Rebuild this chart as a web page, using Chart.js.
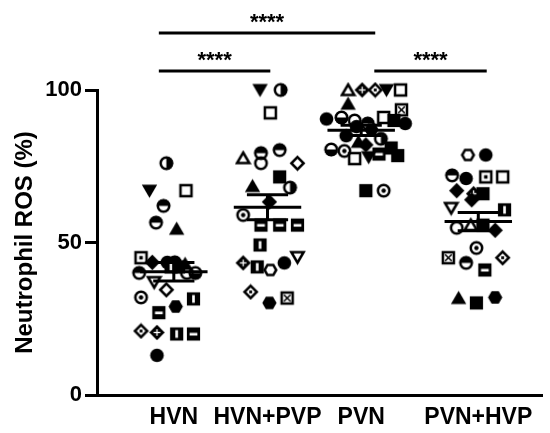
<!DOCTYPE html>
<html>
<head>
<meta charset="utf-8">
<script src="https://cdn.jsdelivr.net/npm/chart.js@4.4.1/dist/chart.umd.min.js"></script>
<style>
  html, body { margin: 0; padding: 0; background: #fff; }
  #wrap { width: 550px; height: 433px; }
</style>
</head>
<body>
<div id="wrap"><canvas id="rosChart" width="550" height="433"></canvas></div>
<script>
// groups and where they sit on the x axis
const groups = ['HVN', 'HVN+PVP', 'PVN', 'PVN+HVP'];
const groupX = [1, 2, 3, 4.25];

// HVN
const hvnValues = [76, 67, 67, 62, 56.5, 54.5, 45, 43.5, 43.5, 43.5, 43, 42, 42, 40, 40, 40, 37, 34.5, 32, 31.5, 29, 27, 21, 20.5, 20, 20, 13];
const hvnJitter = [-0.08, -0.26, 0.13, -0.11, -0.19, 0.03, -0.35, -0.23, -0.07, 0.01, 0.12, 0.05, -0.03, -0.37, 0.23, 0.14, -0.21, -0.08, -0.35, 0.21, 0.02, -0.16, -0.35, -0.18, 0.03, 0.21, -0.18];
const hvnMarkers = ['halfRight', 'triDown', 'squareOpen', 'halfTop', 'halfTop', 'tri', 'squareDot', 'diamond', 'circle', 'halfTop', 'tri', 'square', 'squareBarV', 'halfTop', 'halfBottom', 'circleOpen', 'triDownOpen', 'diamondOpen', 'circleDot', 'squareBarV', 'hex', 'squareBarH', 'diamondDot', 'diamondCross', 'squareBarV', 'squareBarH', 'circle'];

// HVN+PVP
const hvnPvpValues = [100, 100, 92.5, 77.7, 79.3, 76, 80.3, 76, 71.5, 68.5, 68, 63.3, 59, 55.7, 55.7, 55.7, 49.2, 43.3, 42, 41, 43.3, 45.2, 33.8, 30.2, 31.8];
const hvnPvpJitter = [-0.08, 0.14, 0.03, -0.26, -0.07, -0.07, 0.13, 0.32, 0.13, -0.16, 0.24, 0.02, -0.26, -0.07, 0.13, 0.32, -0.08, -0.26, -0.11, 0.03, 0.18, 0.32, -0.18, 0.02, 0.21];
const hvnPvpMarkers = ['triDown', 'halfRight', 'squareOpen', 'triOpen', 'halfTop', 'circleOpen', 'halfTop', 'diamondOpen', 'square', 'tri', 'halfRight', 'diamond', 'circleDot', 'squareBarH', 'squareBarH', 'squareBarH', 'squareBarV', 'diamondCross', 'squareBarV', 'hexOpen', 'circle', 'triDownOpen', 'diamondDot', 'hex', 'squareX'];

// PVN
const pvnValues = [100, 100, 100, 100, 100, 95.5, 93.5, 90.5, 91, 90, 91, 90, 89, 89, 88, 87, 85, 84, 83, 82, 81, 80.5, 80, 79, 78.5, 78, 77.5, 67, 67];
const pvnJitter = [-0.14, 0.01, 0.15, 0.27, 0.42, -0.14, 0.43, -0.37, -0.21, -0.07, 0.24, 0.35, 0.47, 0.07, -0.05, 0.11, -0.16, 0.21, -0.03, 0.05, 0.32, -0.32, -0.18, 0.19, 0.39, 0.08, -0.07, 0.05, 0.24];
const pvnMarkers = ['triOpen', 'diamondCross', 'diamondDot', 'triDown', 'squareOpen', 'tri', 'squareX', 'circle', 'halfBottom', 'circleOpen', 'squareOpen', 'square', 'circle', 'halfTop', 'circle', 'hex', 'circle', 'halfRight', 'tri', 'diamond', 'square', 'halfBottom', 'circleDot', 'squareBarH', 'square', 'triDown', 'squareOpen', 'square', 'circleDot'];

// PVN+HVP
const pvnHvpValues = [78.7, 78.7, 72, 71, 71.5, 71.5, 67, 66, 66, 64, 61.3, 60.7, 54.8, 55.7, 55.7, 54, 48.2, 45, 43.3, 45, 41, 31.8, 30.2, 32];
const pvnHvpJitter = [-0.11, 0.08, -0.28, -0.13, 0.08, 0.26, -0.23, -0.05, 0.05, -0.07, -0.29, 0.28, -0.23, -0.08, 0.05, 0.18, -0.02, -0.32, -0.13, 0.26, 0.07, -0.21, -0.02, 0.18];
const pvnHvpMarkers = ['hexOpen', 'circle', 'halfTop', 'circle', 'squareDot', 'squareOpen', 'diamond', 'diamondCross', 'square', 'diamond', 'triDownOpen', 'squareBarV', 'circleOpen', 'triOpen', 'square', 'diamond', 'circleDot', 'squareX', 'halfTop', 'diamondDot', 'squareBarH', 'tri', 'square', 'hex'];

// significance brackets: [from, to] on the x axis, height in %, label
const bracketFrom = [0.84, 0.84, 3.14];
const bracketTo = [2.03, 3.15, 4.34];
const bracketLevel = [106.2, 118.7, 106.2];
const bracketText = ['****', '****', '****'];

const yTicks = [0, 50, 100];
const fontFamily = "Arial, 'Liberation Sans', sans-serif";

const allValues = [hvnValues, hvnPvpValues, pvnValues, pvnHvpValues];
const allJitter = [hvnJitter, hvnPvpJitter, pvnJitter, pvnHvpJitter];
const allMarkers = [hvnMarkers, hvnPvpMarkers, pvnMarkers, pvnHvpMarkers];

function makeMarker(kind) {
    const c = document.createElement('canvas');
    c.width = 17;
    c.height = 17;
    const g = c.getContext('2d');
    g.translate(8.5, 8.5);
    g.scale(1.1, 1.1);
    g.fillStyle = '#000';
    g.strokeStyle = '#000';
    g.lineWidth = 2.3;
    const poly = pts => {
        g.beginPath();
        pts.forEach((p, i) => i ? g.lineTo(p[0], p[1]) : g.moveTo(p[0], p[1]));
        g.closePath();
    };
    const hexPts = r => [0, 1, 2, 3, 4, 5].map(k => [r * Math.cos(k * Math.PI / 3), r * Math.sin(k * Math.PI / 3)]);
    switch (kind) {
        case 'circle':
            g.beginPath(); g.arc(0, 0, 6.2, 0, Math.PI * 2); g.fill(); break;
        case 'circleOpen':
            g.beginPath(); g.arc(0, 0, 5.2, 0, Math.PI * 2); g.stroke(); break;
        case 'circleDot':
            g.beginPath(); g.arc(0, 0, 5.2, 0, Math.PI * 2); g.stroke();
            g.beginPath(); g.arc(0, 0, 2, 0, Math.PI * 2); g.fill(); break;
        case 'halfTop':
            g.beginPath(); g.arc(0, 0, 5.2, 0, Math.PI * 2); g.stroke();
            g.beginPath(); g.arc(0, 0, 6.2, Math.PI, Math.PI * 2); g.fill(); break;
        case 'halfBottom':
            g.beginPath(); g.arc(0, 0, 5.2, 0, Math.PI * 2); g.stroke();
            g.beginPath(); g.arc(0, 0, 6.2, 0, Math.PI); g.fill(); break;
        case 'halfRight':
            g.beginPath(); g.arc(0, 0, 5.2, 0, Math.PI * 2); g.stroke();
            g.beginPath(); g.arc(0, 0, 6.2, -Math.PI / 2, Math.PI / 2); g.fill(); break;
        case 'tri':
            poly([[0, -6.5], [7, 5.5], [-7, 5.5]]); g.fill(); break;
        case 'triOpen':
            poly([[0, -5], [5.6, 4.6], [-5.6, 4.6]]); g.stroke(); break;
        case 'triDown':
            poly([[0, 6.5], [7, -5.5], [-7, -5.5]]); g.fill(); break;
        case 'triDownOpen':
            poly([[0, 5], [5.6, -4.6], [-5.6, -4.6]]); g.stroke(); break;
        case 'square':
            g.fillRect(-6, -6, 12, 12); break;
        case 'squareOpen':
            g.strokeRect(-5, -5, 10, 10); break;
        case 'squareDot':
            g.strokeRect(-5, -5, 10, 10); g.fillRect(-1.6, -1.6, 3.2, 3.2); break;
        case 'squareX':
            g.strokeRect(-5, -5, 10, 10);
            g.lineWidth = 1.4;
            g.beginPath(); g.moveTo(-3, -3); g.lineTo(3, 3); g.moveTo(3, -3); g.lineTo(-3, 3); g.stroke(); break;
        case 'squareBarH':
            g.fillRect(-6, -6, 12, 12); g.fillStyle = '#fff'; g.fillRect(-3.5, -1, 7, 2.4); break;
        case 'squareBarV':
            g.fillRect(-6, -6, 12, 12); g.fillStyle = '#fff'; g.fillRect(-1.2, -3.5, 2.4, 7); break;
        case 'diamond':
            poly([[0, -7], [7, 0], [0, 7], [-7, 0]]); g.fill(); break;
        case 'diamondOpen':
            poly([[0, -5.6], [5.6, 0], [0, 5.6], [-5.6, 0]]); g.stroke(); break;
        case 'diamondDot':
            poly([[0, -5.6], [5.6, 0], [0, 5.6], [-5.6, 0]]); g.stroke();
            g.fillRect(-1.3, -1.3, 2.6, 2.6); break;
        case 'diamondCross':
            poly([[0, -7], [7, 0], [0, 7], [-7, 0]]); g.fill();
            g.fillStyle = '#fff'; g.fillRect(-0.6, -3, 1.2, 6); g.fillRect(-3, -0.6, 6, 1.2); break;
        case 'hex':
            poly(hexPts(6.5)); g.fill(); break;
        case 'hexOpen':
            poly(hexPts(5.3)); g.stroke(); break;
    }
    return c;
}

const markerCache = {};
function marker(kind) {
    if (!markerCache[kind]) markerCache[kind] = makeMarker(kind);
    return markerCache[kind];
}

function meanOf(arr) {
    return arr.reduce((a, b) => a + b, 0) / arr.length;
}
function semOf(arr) {
    const m = meanOf(arr);
    const v = arr.reduce((a, b) => a + (b - m) * (b - m), 0) / (arr.length - 1);
    return Math.sqrt(v / arr.length);
}

// mean +/- SEM bars drawn over the points
const meanSemPlugin = {
    id: 'meanSem',
    afterDatasetsDraw(chart) {
        const xs = chart.scales.x;
        const ys = chart.scales.y;
        const g = chart.ctx;
        g.save();
        g.strokeStyle = '#000';
        g.lineWidth = 3;
        allValues.forEach((vals, i) => {
            const m = meanOf(vals);
            const s = semOf(vals);
            const cx = groupX[i];
            const yM = ys.getPixelForValue(m);
            const yHi = ys.getPixelForValue(m + s);
            const yLo = ys.getPixelForValue(m - s);
            g.beginPath();
            g.moveTo(xs.getPixelForValue(cx - 0.36), yM);
            g.lineTo(xs.getPixelForValue(cx + 0.36), yM);
            g.moveTo(xs.getPixelForValue(cx - 0.22), yHi);
            g.lineTo(xs.getPixelForValue(cx + 0.22), yHi);
            g.moveTo(xs.getPixelForValue(cx - 0.22), yLo);
            g.lineTo(xs.getPixelForValue(cx + 0.22), yLo);
            g.moveTo(xs.getPixelForValue(cx), yHi);
            g.lineTo(xs.getPixelForValue(cx), yLo);
            g.stroke();
        });
        g.restore();
    }
};

const bracketPlugin = {
    id: 'brackets',
    afterDraw(chart) {
        const xs = chart.scales.x;
        const ys = chart.scales.y;
        const g = chart.ctx;
        g.save();
        g.strokeStyle = '#000';
        g.fillStyle = '#000';
        g.lineWidth = 3;
        g.font = 'bold 22px ' + fontFamily;
        g.textAlign = 'center';
        g.textBaseline = 'alphabetic';
        bracketFrom.forEach((from, i) => {
            const x1 = xs.getPixelForValue(from);
            const x2 = xs.getPixelForValue(bracketTo[i]);
            const y = ys.getPixelForValue(bracketLevel[i]);
            g.beginPath();
            g.moveTo(x1, y);
            g.lineTo(x2, y);
            g.stroke();
            g.fillText(bracketText[i], (x1 + x2) / 2, y - 4);
        });
        g.restore();
    }
};

const datasets = allValues.map((vals, gi) => ({
    label: groups[gi],
    data: vals.map((v, i) => ({ x: groupX[gi] + allJitter[gi][i], y: v })),
    pointStyle: ctx => marker(allMarkers[gi][ctx.dataIndex]),
    pointRadius: 7,
    clip: false
}));

new Chart(document.getElementById('rosChart'), {
    type: 'scatter',
    data: { datasets: datasets },
    options: {
        responsive: false,
        animation: false,
        layout: { padding: { top: 90, right: 2, bottom: 0, left: 0 } },
        plugins: {
            legend: { display: false },
            tooltip: { enabled: false }
        },
        scales: {
            x: {
                type: 'linear',
                min: 0.18,
                max: 4.93,
                afterFit: scale => { scale.height = 38; },
                afterBuildTicks: scale => { scale.ticks = groupX.map(v => ({ value: v })); },
                grid: { display: false },
                border: { display: true, width: 3, color: '#000' },
                ticks: {
                    autoSkip: false,
                    maxRotation: 0,
                    padding: 1,
                    color: '#000',
                    font: { family: fontFamily, size: 23, weight: 'bold' },
                    callback: v => groups[groupX.indexOf(v)]
                }
            },
            y: {
                min: 0,
                max: 100,
                afterFit: scale => { scale.width = 97; },
                afterBuildTicks: scale => { scale.ticks = yTicks.map(v => ({ value: v })); },
                grid: {
                    display: true,
                    drawOnChartArea: false,
                    drawTicks: true,
                    tickLength: 12,
                    tickWidth: 3,
                    tickColor: '#000'
                },
                border: { display: true, width: 3, color: '#000' },
                ticks: {
                    padding: 3,
                    color: '#000',
                    font: { family: fontFamily, size: 22, weight: 'bold' }
                },
                title: {
                    display: true,
                    text: 'Neutrophil ROS (%)',
                    color: '#000',
                    padding: { top: 11, bottom: 0 },
                    font: { family: fontFamily, size: 24, weight: 'bold' }
                }
            }
        }
    },
    plugins: [meanSemPlugin, bracketPlugin]
});
</script>
</body>
</html>
